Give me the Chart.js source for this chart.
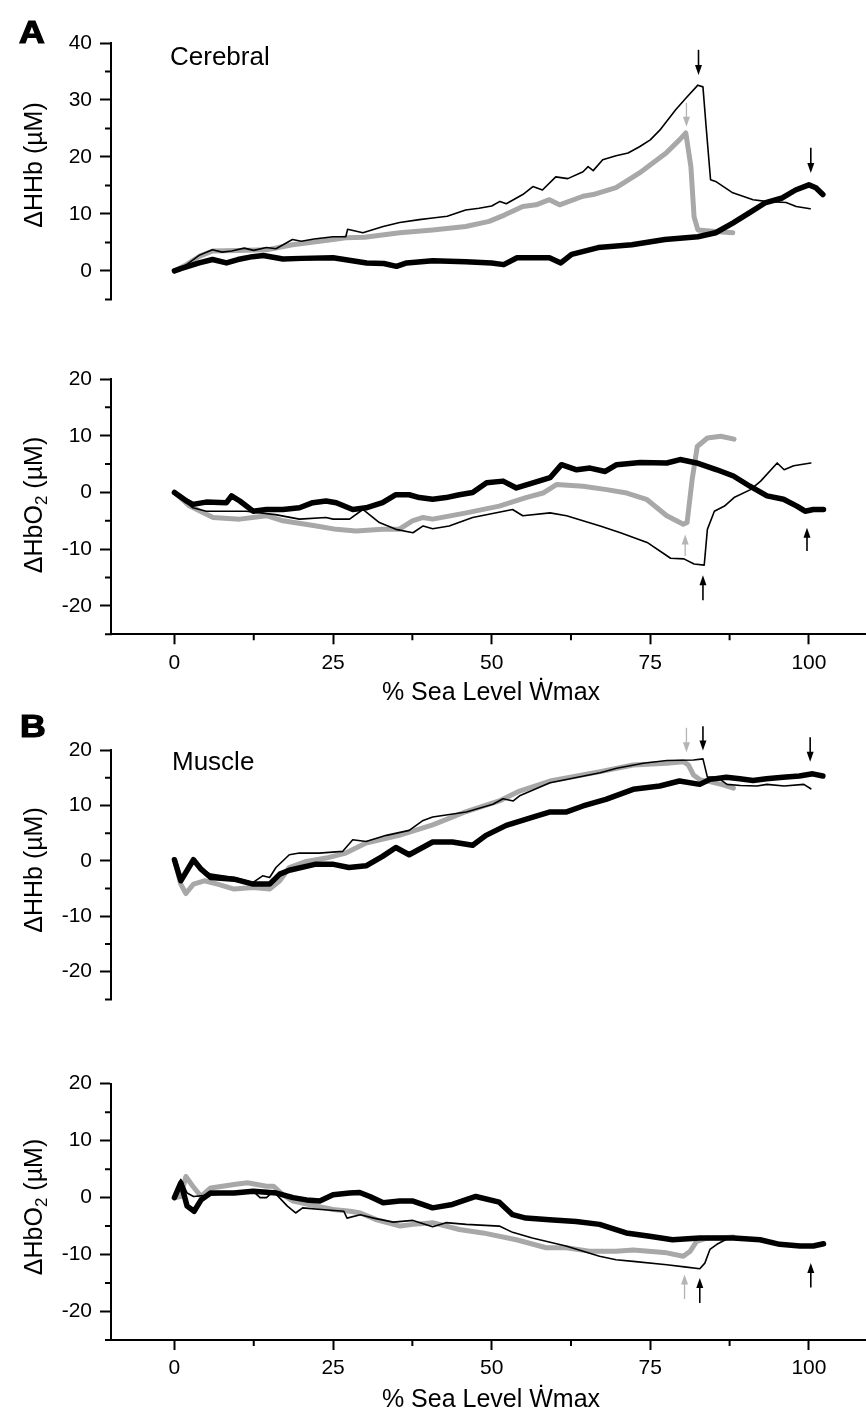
<!DOCTYPE html>
<html>
<head>
<meta charset="utf-8">
<script src="https://cdn.jsdelivr.net/npm/chart.js@4.4.1/dist/chart.umd.min.js"></script>
<style>
  html, body { margin: 0; padding: 0; background: #fff; }
  body { width: 866px; height: 1416px; position: relative; overflow: hidden;
         font-family: "Liberation Sans", Arial, Helvetica, sans-serif; color: #000; }
  canvas { position: absolute; left: 0; }
  .lbl { position: absolute; white-space: nowrap; line-height: 1; }
  .panel { font-weight: bold; font-size: 31px; -webkit-text-stroke: 1.2px #000;
           transform: scaleX(1.15); transform-origin: left top; }
  .region { font-size: 26px; }
  .ytitle { font-size: 25px; height: 25px; line-height: 25px; transform: translate(-50%, -50%) rotate(-90deg); }
  .ytitle .sub { font-size: 17px; vertical-align: -5px; }
  .xtitle { font-size: 25px; transform: translateX(-50%); }
</style>
</head>
<body>
<canvas id="cerebralHHb" width="866" height="320" style="top:0px"></canvas>
<canvas id="cerebralHbO2" width="866" height="390" style="top:320px"></canvas>
<canvas id="muscleHHb" width="866" height="310" style="top:710px"></canvas>
<canvas id="muscleHbO2" width="866" height="396" style="top:1020px"></canvas>

<div class="lbl panel" style="left:19px; top:17px">A</div>
<div class="lbl region" style="left:170px; top:43px">Cerebral</div>
<div class="lbl ytitle" style="left:33px; top:165px">ΔHHb (µM)</div>
<div class="lbl ytitle" style="left:33px; top:505px">ΔHbO<span class="sub">2</span> (µM)</div>
<div class="lbl xtitle" style="left:491px; top:679px">% Sea Level Ẇmax</div>

<div class="lbl panel" style="left:20px; top:711px">B</div>
<div class="lbl region" style="left:172px; top:748px">Muscle</div>
<div class="lbl ytitle" style="left:33px; top:870px">ΔHHb (µM)</div>
<div class="lbl ytitle" style="left:33px; top:1207px">ΔHbO<span class="sub">2</span> (µM)</div>
<div class="lbl xtitle" style="left:491px; top:1386px">% Sea Level Ẇmax</div>

<script>
// Tick values
const xTicks = [0, 25, 50, 75, 100];
const xMinorTicks = [12.5, 37.5, 62.5, 87.5];
const hhbCerebralTicks = [0, 10, 20, 30, 40];
const hhbCerebralMinor = [-5, 5, 15, 25, 35];
const stdTicks = [-20, -10, 0, 10, 20];
const stdMinor = [-25, -15, -5, 5, 15];

// Cerebral HHb  [ % sea level Wmax, uM ]
const cerebralHHbThin = [[0,0],[1.9,1.1],[4,2.8],[6,3.7],[7.5,3.3],[9,3.5],[11,4],[12.5,3.6],[14.5,4.1],[16,3.9],[18.6,5.5],[20,5.2],[22,5.6],[25,6.0],[27,6],[27.3,7.3],[29.7,6.7],[32.9,7.8],[35.5,8.5],[38.6,9.0],[40.7,9.3],[43,9.6],[45.9,10.7],[48,11],[50,11.4],[51.3,12.2],[52.3,11.8],[54.9,13.4],[56.5,14.8],[58,14.2],[60.1,16.5],[62,16.2],[64.4,17.4],[65.2,18.3],[66,17.6],[67.5,19.5],[69.6,20.2],[71.5,20.7],[73.3,21.8],[75,23],[76.5,24.7],[79,28.3],[80.6,30.3],[82.5,32.6],[83.3,32.3],[83.8,25.3],[84.5,16],[85.3,15.7],[88,13.7],[91.2,12.5],[93.2,12.2],[96.4,12],[98,11.3],[100.2,10.9]];
const cerebralHHbThick = [[0,0],[1,0.4],[3.9,1.4],[6,2],[8.2,1.4],[10,2],[12.3,2.5],[14,2.7],[17.1,2.1],[20,2.2],[25,2.3],[30.3,1.4],[33,1.3],[35,0.8],[36.6,1.4],[40.7,1.8],[45.9,1.6],[50,1.4],[51.9,1.1],[54,2.3],[59.1,2.3],[60.9,1.4],[62.6,2.9],[66.8,4.1],[72.1,4.6],[77.3,5.5],[82.5,6],[85.3,6.7],[88,8.4],[90.6,10.2],[93.2,12],[95.8,12.8],[97.9,14.2],[100,15.1],[101.1,14.6],[102.2,13.4]];
const cerebralHHbGray = [[0,0],[1.9,1.1],[4,2.6],[6,3.5],[10,3.6],[14.5,3.7],[18.6,4.6],[25,5.5],[27,5.8],[30,5.9],[35.5,6.7],[40.7,7.2],[45.9,7.8],[49.6,8.7],[52,9.8],[54.9,11.3],[57,11.6],[59.1,12.5],[60.7,11.6],[64.4,13.1],[66,13.4],[69.6,14.6],[71,15.6],[73.3,17.2],[77.5,20.7],[79.6,23],[80.6,24.2],[81.4,18.3],[81.9,9.5],[82.5,7.2],[85.3,6.9],[88,6.7]];
const cerebralHHbArrows = [[82.6,38.8,34.4,'k'],[80.7,29.5,25.3,'g'],[100.3,21.6,17.2,'k']];

// Cerebral HbO2
const cerebralHbO2Thin = [[0,0],[2.9,-2.7],[5,-3.3],[8.6,-3.3],[11.3,-3.3],[15.9,-3.9],[19.7,-4.7],[23.9,-4.4],[25,-4.7],[27.6,-4.7],[29.7,-3],[32.3,-5.3],[34.9,-6.5],[37.6,-7.1],[39.2,-5.9],[40.7,-6.4],[43.3,-5.9],[47,-4.4],[53.3,-3],[54.9,-4.1],[59.2,-3.6],[61.8,-4.1],[67.1,-5.9],[70.3,-7.1],[74.5,-8.8],[78.2,-11.6],[80.3,-11.7],[81.9,-12.6],[83.5,-12.8],[84,-6.5],[85.1,-3.3],[86.7,-2.4],[88.2,-0.9],[90.8,0.5],[92.4,2],[95,5.2],[96.1,4],[97.6,4.7],[100.3,5.2]];
const cerebralHbO2Thick = [[0,0],[1.9,-1.5],[2.9,-2.1],[5,-1.7],[8.2,-1.8],[9,-0.6],[10.3,-1.5],[12.4,-3.3],[14.5,-3.0],[17.1,-3],[19.7,-2.7],[21.8,-1.8],[23.9,-1.5],[25.5,-1.8],[28.1,-3],[30.2,-2.7],[32.8,-1.8],[34.9,-0.4],[37,-0.4],[38.6,-0.9],[40.7,-1.2],[42.8,-0.9],[44.9,-0.4],[47,0],[49.2,1.7],[51.8,2.0],[53.9,0.8],[56.5,1.7],[59.2,2.6],[61,4.9],[63.4,4],[65.5,4.3],[67.9,3.7],[69.7,4.9],[73.4,5.3],[77.6,5.2],[79.7,5.8],[82.3,5.2],[85.5,4],[88.1,2.9],[90.7,1.1],[93.4,-0.6],[96,-1.2],[98.1,-2.4],[99.4,-3.3],[100.7,-3],[102.3,-3]];
const cerebralHbO2Gray = [[0,0],[2.4,-2.4],[6.1,-4.4],[10.3,-4.7],[14.5,-4.1],[17.1,-5],[22.4,-5.9],[25.5,-6.5],[28.6,-6.8],[32.8,-6.5],[35.4,-6.5],[37.5,-5],[39.2,-4.4],[40.7,-4.7],[46,-3.6],[51.2,-2.4],[55.4,-0.9],[58.1,-0.1],[60.2,1.4],[64.4,1.1],[68.1,0.5],[71.3,-0.1],[74.4,-1.2],[77.6,-4.1],[80.2,-5.6],[80.8,-5.3],[81.6,2.3],[82.4,8.1],[84,9.6],[86.1,9.9],[88.2,9.4]];
const cerebralHbO2Arrows = [[80.5,-11.2,-7.4,'g'],[83.3,-19,-14.6,'k'],[99.7,-10.3,-6.2,'k']];

// Muscle HHb
const muscleHHbThin = [[0,0.2],[1,-3.6],[1.8,-2.4],[3,-0.1],[4.2,-1.5],[5.7,-2.4],[9.4,-3],[12.4,-3.9],[13.9,-2.7],[15,-3],[16,-1.2],[18.1,1.1],[19.7,1.4],[22.8,1.4],[26.5,1.7],[28.1,3.8],[30.2,3.5],[33.4,4.6],[37,5.5],[39.2,7.3],[40.7,7.9],[46,8.8],[50.2,10.2],[51.8,11.2],[53.4,10.8],[54.5,11.8],[59.2,14.1],[67.1,15.9],[69.7,16.7],[73.9,17.6],[77.6,18.1],[81.8,18.2],[83.3,18.4],[84,15.1],[85.5,15.1],[87.1,13.8],[89.2,13.6],[91.8,13.5],[93.4,13.8],[96.1,13.5],[99.2,13.8],[100.3,13]];
const muscleHHbThick = [[0,0.2],[1,-3.6],[3,0.2],[4.2,-1.5],[5.7,-3],[9.4,-3.3],[12.4,-4.2],[15,-4.2],[16.6,-2.4],[18.1,-1.7],[22.3,-0.6],[24.9,-0.6],[27.5,-1.2],[30.2,-0.9],[32.8,0.8],[34.9,2.4],[37,1.1],[40.7,3.4],[43.8,3.4],[47,2.8],[49.1,4.6],[52.3,6.4],[56.5,7.9],[59.1,8.8],[61.7,8.8],[64.4,9.9],[68,11.1],[72.3,12.9],[76.5,13.5],[79.6,14.4],[82.8,13.8],[84.4,14.7],[87,15.1],[89.1,14.8],[91.2,14.5],[93.3,14.8],[95.9,15.1],[98.5,15.3],[100.6,15.7],[102.2,15.3]];
const muscleHHbGray = [[0,0.2],[1,-4.2],[1.8,-5.9],[3,-4.2],[4.7,-3.6],[6.8,-4.2],[9.4,-5.1],[12.4,-4.8],[15,-5.1],[16.6,-3.6],[18.1,-1.2],[20.8,-0.1],[23.9,0.5],[27,1.4],[30.2,3.2],[35.4,4.6],[40.7,6.5],[46,8.9],[51.2,10.8],[54.4,12.6],[59.2,14.4],[67.1,16.1],[72.3,17.3],[77.6,17.6],[80.2,17.9],[81,17.3],[81.8,15.5],[82.9,14.6],[84.4,14.3],[86.5,13.7],[88.1,13.1]];
const muscleHHbArrows = [[80.7,24,19.6,'g'],[83.3,24.3,19.9,'k'],[100.2,22.3,17.9,'k']];

// Muscle HbO2
const muscleHbO2Thin = [[0,0],[1,3.2],[2,0.8],[3,0.2],[5,0.4],[9.4,0.8],[12.4,1.1],[13.5,0],[14.5,0],[15.6,1.1],[17.8,-1.5],[19.1,-2.7],[20.2,-1.8],[23.1,-2.1],[26.7,-2.4],[27.2,-3.6],[29.3,-3],[31.4,-3.6],[34.5,-4.3],[37.6,-4],[40.7,-5.1],[42.8,-4.4],[46,-4.7],[51.2,-5],[53.3,-6.1],[56.4,-7.1],[61.7,-8.5],[67,-10.3],[69.6,-10.9],[72.3,-11.2],[77.6,-11.8],[80.7,-12.2],[82.8,-12.5],[83.6,-11.5],[84.4,-9.1],[85.5,-8.2],[87,-7.3],[88.1,-7]];
const muscleHbO2Thick = [[0,0],[1,2.6],[2,-1.5],[3.1,-2.4],[4.2,-0.4],[5.7,0.8],[9.4,0.8],[12.4,1.1],[16.1,0.8],[18.7,0],[20.8,-0.4],[22.9,-0.6],[25,0.5],[27.6,0.8],[29.2,0.9],[30.8,0.2],[32.9,-0.9],[35.5,-0.6],[37.6,-0.6],[40.7,-1.8],[43.8,-1.2],[47.5,0.2],[51.2,-0.8],[53.3,-3],[55.4,-3.6],[59.1,-3.9],[63.3,-4.2],[67,-4.7],[71.2,-6.2],[74.9,-6.8],[78.5,-7.4],[82.8,-7.1],[88.1,-7.1],[92.3,-7.4],[95.4,-8.2],[98.6,-8.5],[100.7,-8.5],[102.3,-8.1]];
const muscleHbO2Gray = [[0,0],[1,0.2],[1.8,3.7],[2.9,2],[4.2,0.2],[5.7,1.7],[9.4,2.3],[11.5,2.6],[14.5,2],[15.6,2],[17.1,0.5],[18.7,-0.6],[22.4,-1.5],[25,-2.1],[27.7,-2.4],[29.3,-2.7],[31.9,-3.9],[35.6,-5],[37.6,-4.7],[40.7,-4.4],[44.9,-5.6],[48.6,-6.2],[53.9,-7.4],[58.6,-8.8],[61.7,-8.8],[65.4,-9.4],[69.6,-9.4],[72.3,-9.2],[77.6,-9.7],[80.2,-10.3],[81.3,-9.4],[82.3,-7.7],[83.9,-7.1],[86,-7.1],[88.1,-6.9]];
const muscleHbO2Arrows = [[80.4,-17.8,-13.5,'g'],[82.8,-18.5,-14.1,'k'],[100.3,-15.8,-11.5,'k']];

const BLACK = '#000000';
const GRAY = '#a8a8a8';
const ARROW_GRAY = '#b4b4b4';
const FONT = '"Liberation Sans", Arial, Helvetica, sans-serif';

Chart.defaults.font.family = FONT;
Chart.defaults.color = '#000';

function toPoints(arr) {
    return arr.map(p => ({ x: p[0], y: p[1] }));
}

// minor ticks and the small arrows, placed through the chart's scales
const extrasPlugin = {
    id: 'extras',
    afterDraw(chart, args, opts) {
        const ctx = chart.ctx;
        const xs = chart.scales.x;
        const ys = chart.scales.y;
        const area = chart.chartArea;
        ctx.save();
        ctx.strokeStyle = BLACK;
        ctx.lineWidth = 2;
        ctx.beginPath();
        opts.yMinor.forEach(v => {
            const py = ys.getPixelForValue(v);
            ctx.moveTo(area.left - 6, py);
            ctx.lineTo(area.left + 1, py);
        });
        if (opts.showX) {
            opts.xMinor.forEach(v => {
                const px = xs.getPixelForValue(v);
                ctx.moveTo(px, area.bottom - 1);
                ctx.lineTo(px, area.bottom + 6);
            });
        }
        ctx.stroke();

        opts.arrows.forEach(a => {
            const px = xs.getPixelForValue(a[0]);
            const p0 = ys.getPixelForValue(a[1]);
            const p1 = ys.getPixelForValue(a[2]);
            const dir = p1 > p0 ? 1 : -1;
            const col = a[3] === 'g' ? ARROW_GRAY : BLACK;
            ctx.strokeStyle = col;
            ctx.fillStyle = col;
            ctx.lineWidth = a[3] === 'g' ? 1.3 : 1.6;
            ctx.beginPath();
            ctx.moveTo(px, p0);
            ctx.lineTo(px, p1 - dir * 7);
            ctx.stroke();
            ctx.beginPath();
            ctx.moveTo(px, p1);
            ctx.lineTo(px - 3.5, p1 - dir * 10);
            ctx.lineTo(px + 3.5, p1 - dir * 10);
            ctx.closePath();
            ctx.fill();
        });
        ctx.restore();
    }
};

function makePanel(id, thin, thick, gray, yMin, yMax, yTicks, yMinor, arrows, showX, padTop, padBottom, xHeight) {
    const ctx = document.getElementById(id).getContext('2d');
    const gridOpts = {
        display: true,
        drawOnChartArea: false,
        drawTicks: true,
        tickWidth: 2,
        tickColor: BLACK
    };
    const xScale = {
        type: 'linear',
        min: -10,
        max: 109,
        display: showX,
        afterBuildTicks: s => { s.ticks = xTicks.map(v => ({ value: v })); },
        ticks: { font: { size: 21 }, color: BLACK, padding: 6, maxRotation: 0, autoSkip: false },
        grid: Object.assign({}, gridOpts, { tickLength: 10 }),
        border: { display: true, color: BLACK, width: 2 }
    };
    if (showX) {
        xScale.afterFit = s => { s.height = xHeight; };
    }
    new Chart(ctx, {
        type: 'line',
        data: {
            datasets: [
                { data: toPoints(thin), borderColor: BLACK, borderWidth: 1.6 },
                { data: toPoints(thick), borderColor: BLACK, borderWidth: 5.5 },
                { data: toPoints(gray), borderColor: GRAY, borderWidth: 5 }
            ]
        },
        options: {
            responsive: false,
            animation: false,
            parsing: false,
            elements: {
                point: { radius: 0 },
                line: { tension: 0, fill: false, borderJoinStyle: 'round', borderCapStyle: 'round' }
            },
            layout: { padding: { top: padTop, bottom: padBottom, left: 0, right: 0 } },
            plugins: {
                legend: { display: false },
                tooltip: { enabled: false },
                extras: { yMinor: yMinor, xMinor: xMinorTicks, arrows: arrows, showX: showX }
            },
            scales: {
                x: xScale,
                y: {
                    type: 'linear',
                    min: yMin,
                    max: yMax,
                    afterBuildTicks: s => { s.ticks = yTicks.map(v => ({ value: v })); },
                    afterFit: s => { s.width = 111; },
                    ticks: { font: { size: 21 }, color: BLACK, padding: 8, autoSkip: false },
                    grid: Object.assign({}, gridOpts, { tickLength: 11 }),
                    border: { display: true, color: BLACK, width: 2 }
                }
            }
        },
        plugins: [extrasPlugin]
    });
}

document.addEventListener('DOMContentLoaded', () => {
    makePanel('cerebralHHb', cerebralHHbThin, cerebralHHbThick, cerebralHHbGray,
        -5, 40, hhbCerebralTicks, hhbCerebralMinor, cerebralHHbArrows, false, 43, 20, 0);
    makePanel('cerebralHbO2', cerebralHbO2Thin, cerebralHbO2Thick, cerebralHbO2Gray,
        -25, 20, stdTicks, stdMinor, cerebralHbO2Arrows, true, 59, 0, 75.7);
    makePanel('muscleHHb', muscleHHbThin, muscleHHbThick, muscleHHbGray,
        -25, 20, stdTicks, stdMinor, muscleHHbArrows, false, 40, 15, 0);
    makePanel('muscleHbO2', muscleHbO2Thin, muscleHbO2Thick, muscleHbO2Gray,
        -25, 20, stdTicks, stdMinor, muscleHbO2Arrows, true, 63.7, 0, 76);
});
</script>
</body>
</html>
